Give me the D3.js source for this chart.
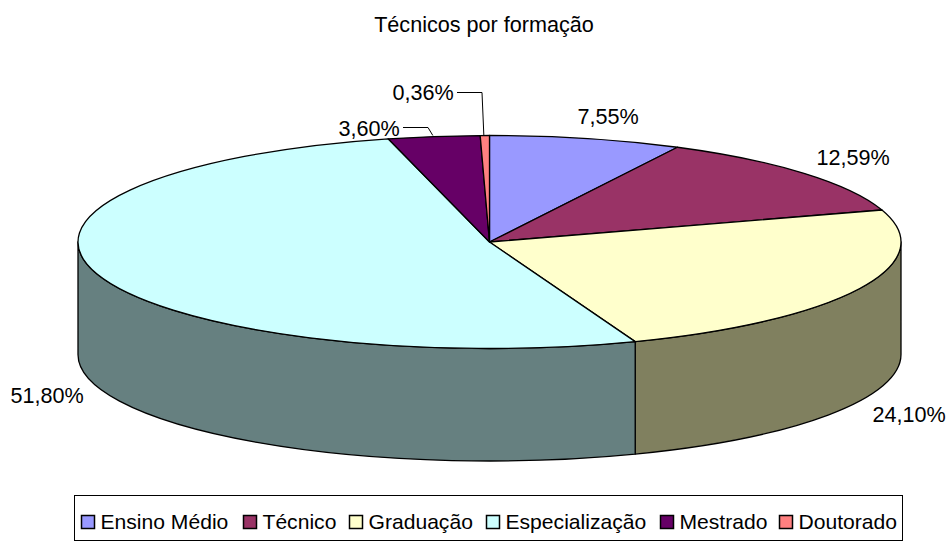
<!DOCTYPE html>
<html><head><meta charset="utf-8">
<script src="https://cdn.jsdelivr.net/npm/d3@7"></script>
<style>html,body{margin:0;padding:0;background:#fff}svg{display:block}text{font-family:"Liberation Sans",Arial,sans-serif;fill:#000}</style>
</head><body><div id="c"></div>
<script>
const title = "Técnicos por formação";
const categories = ["Ensino Médio","Técnico","Graduação","Especialização","Mestrado","Doutorado"];
const values = [7.55,12.59,24.10,51.80,3.60,0.36];
const labels = ["7,55%","12,59%","24,10%","51,80%","3,60%","0,36%"];

(function(){
const colors = ["#9999ff","#993366","#ffffcc","#ccffff","#660066","#ff8080"];
const sideColors = ["#6b6bb3","#6b2447","#80805f","#668080","#330033","#804040"];
const labelPos = [[608,116],[853,157],[909,414],[47,395],[369,128],[423,92]];
const legendX = [81,243,349,486,660,779];
const W=948,H=541,cx=489.5,cy=242,rx=411.5,ry=106.5,depth=112.5;
const svg=d3.select("#c").append("svg").attr("width",W).attr("height",H);
svg.append("text").attr("x",484).attr("y",32).attr("text-anchor","middle").attr("font-size",21.6).text(title);

const pie=d3.pie().sort(null).value(d=>d)(values);
const P=a=>[cx+rx*Math.sin(a),cy-ry*Math.cos(a)];
function sty(s){return s.attr("stroke","#000").attr("stroke-width",1.3).attr("stroke-linejoin","round");}

const walls=svg.append("g");
pie.forEach((d,i)=>{
  const a0=Math.max(d.startAngle,Math.PI/2),a1=Math.min(d.endAngle,3*Math.PI/2);
  if(a1<=a0) return;
  const [x0,y0]=P(a0),[x1,y1]=P(a1);
  const large=(a1-a0)>Math.PI?1:0;
  const p=`M${x0},${y0}A${rx},${ry} 0 ${large} 1 ${x1},${y1}L${x1},${y1+depth}A${rx},${ry} 0 ${large} 0 ${x0},${y0+depth}Z`;
  sty(walls.append("path").attr("d",p).attr("fill",sideColors[i]));
});
const faces=svg.append("g");
pie.forEach((d,i)=>{
  const [x0,y0]=P(d.startAngle),[x1,y1]=P(d.endAngle);
  const large=(d.endAngle-d.startAngle)>Math.PI?1:0;
  sty(faces.append("path").attr("d",`M${cx},${cy}L${x0},${y0}A${rx},${ry} 0 ${large} 1 ${x1},${y1}Z`).attr("fill",colors[i]));
});
const mid=i=>P((pie[i].startAngle+pie[i].endAngle)/2);
const lead=svg.append("g").attr("fill","none").attr("stroke","#000").attr("stroke-width",1);
{const [mx,my]=mid(4);lead.append("path").attr("d",`M403,127.5H428L${mx-1},${my-1}`);}
{const [mx,my]=mid(5);lead.append("path").attr("d",`M457,92.5H482L${mx-1},${my}`);}
svg.append("g").selectAll("text").data(labels).join("text")
 .attr("x",(d,i)=>labelPos[i][0]).attr("y",(d,i)=>labelPos[i][1]+7.5)
 .attr("text-anchor","middle").attr("font-size",21.6).text(d=>d);
svg.append("rect").attr("x",74.5).attr("y",495.5).attr("width",828).attr("height",45).attr("fill","#fff").attr("stroke","#000");
const lg=svg.append("g").selectAll("g").data(categories).join("g").attr("transform",(d,i)=>`translate(${legendX[i]},0)`);
lg.append("rect").attr("x",0.5).attr("y",515.5).attr("width",13).attr("height",13).attr("fill",(d,i)=>colors[i]).attr("stroke","#000").attr("stroke-width",1.5);
lg.append("text").attr("x",19.5).attr("y",529).attr("font-size",21.1).text(d=>d);
})();
</script></body></html>
